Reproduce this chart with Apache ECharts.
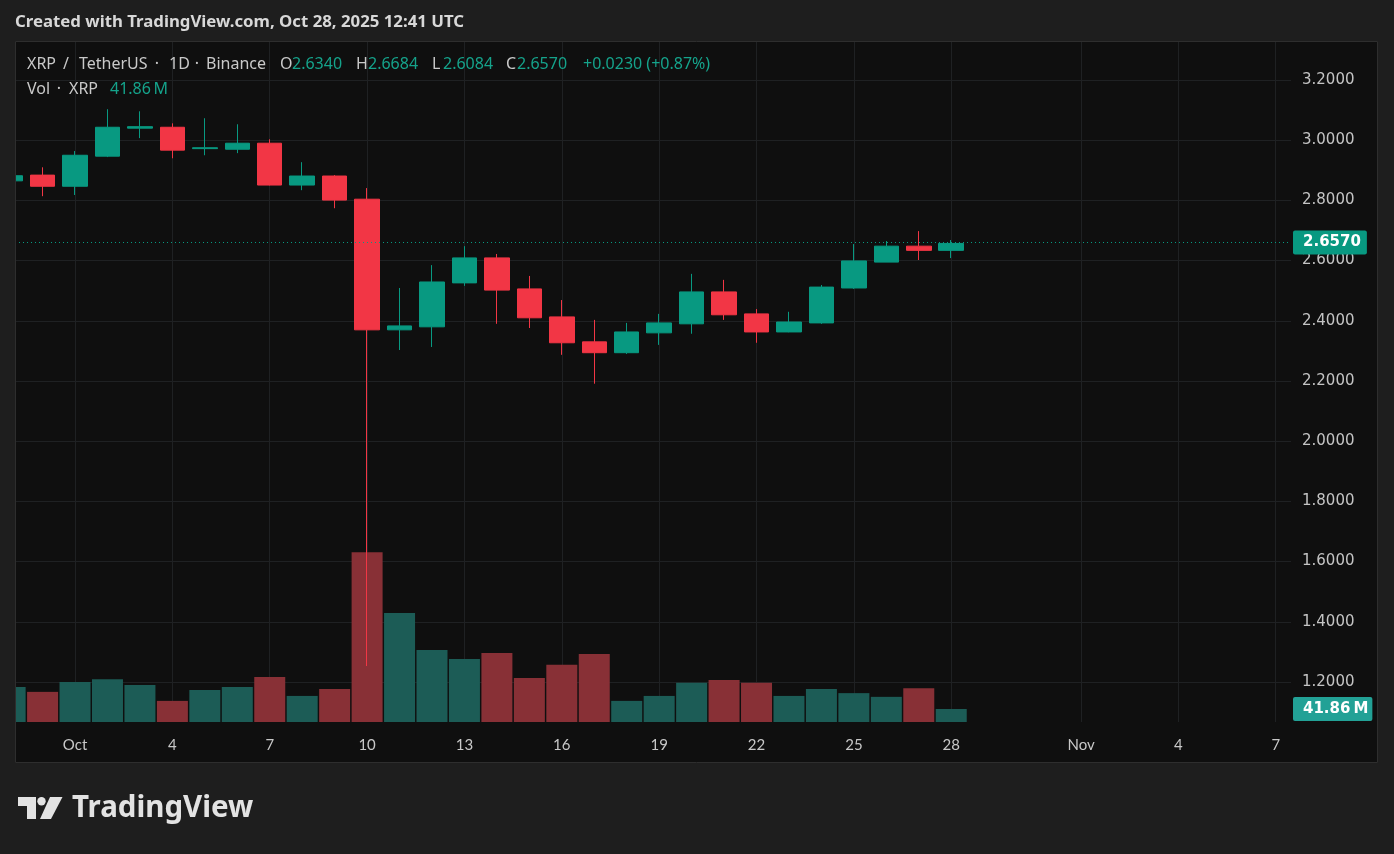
<!DOCTYPE html>
<html><head><meta charset="utf-8">
<script src="https://cdn.jsdelivr.net/npm/echarts@6/dist/echarts.min.js"></script>
<style>html,body{margin:0;padding:0;background:#1e1e1e;} #c{width:1394px;height:854px;}</style>
</head><body><div id="c"></div>
<script>
// ---- data ----
const dates = ['2025-09-29','2025-09-30','2025-10-01','2025-10-02','2025-10-03','2025-10-04','2025-10-05','2025-10-06','2025-10-07','2025-10-08','2025-10-09','2025-10-10','2025-10-11','2025-10-12','2025-10-13','2025-10-14','2025-10-15','2025-10-16','2025-10-17','2025-10-18','2025-10-19','2025-10-20','2025-10-21','2025-10-22','2025-10-23','2025-10-24','2025-10-25','2025-10-26','2025-10-27','2025-10-28'];
const opens  = [2.865,2.884,2.847,2.947,3.040,3.043,2.972,2.970,2.990,2.851,2.881,2.804,2.370,2.380,2.526,2.609,2.506,2.413,2.330,2.294,2.360,2.390,2.496,2.423,2.363,2.393,2.509,2.595,2.648,2.6340];
const closes = [2.882,2.847,2.950,3.043,3.045,2.967,2.975,2.990,2.851,2.881,2.801,2.370,2.383,2.529,2.609,2.502,2.410,2.327,2.294,2.363,2.393,2.496,2.420,2.363,2.396,2.512,2.599,2.648,2.634,2.6570];
const lows   = [2.855,2.814,2.818,2.944,3.007,2.940,2.950,2.957,2.850,2.834,2.774,1.253,2.303,2.313,2.516,2.390,2.376,2.287,2.191,2.290,2.320,2.357,2.403,2.327,2.362,2.390,2.506,2.595,2.602,2.6084];
const highs  = [2.890,2.910,2.964,3.103,3.096,3.056,3.073,3.053,3.003,2.927,2.884,2.841,2.509,2.585,2.648,2.622,2.549,2.469,2.403,2.393,2.423,2.556,2.536,2.439,2.430,2.519,2.655,2.665,2.698,2.6684];
const volumes = [113,97,129,138,119,68,103,113,145,84,106,547,351,232,203,222,142,184,219,68,84,126,135,126,84,106,93,81,109,41.86]; // millions
const xTickDates  = ['2025-10-01','2025-10-04','2025-10-07','2025-10-10','2025-10-13','2025-10-16','2025-10-19','2025-10-22','2025-10-25','2025-10-28','2025-11-01','2025-11-04','2025-11-07'];
const xTickLabels = ['Oct','4','7','10','13','16','19','22','25','28','Nov','4','7'];
const yTickValues = [1.2,1.4,1.6,1.8,2.0,2.2,2.4,2.6,2.8,3.0,3.2];

// ---- helpers ----
const UP = '#089981', DOWN = '#f23645';
const VOL_UP = '#1c5c56', VOL_DOWN = '#883036';
const t0 = Date.UTC(2025, 8, 29);
function dayIndex(s){ const p = s.split('-').map(Number); return (Date.UTC(p[0], p[1]-1, p[2]) - t0) / 86400000; }
const xs = dates.map(dayIndex);
const candleData = dates.map((d,i)=>[xs[i], opens[i], closes[i], lows[i], highs[i]]);
const volData = dates.map((d,i)=>({value:[xs[i], volumes[i]], itemStyle:{color: closes[i] >= opens[i] ? VOL_UP : VOL_DOWN}}));
const xTickIdx = xTickDates.map(dayIndex);
const XMIN = 0.15, XMAX = 39.47;
const n = dates.length - 1;
const lastO = opens[n], lastH = highs[n], lastL = lows[n], lastC = closes[n];
const chg = lastC - closes[n-1];
const chgPct = chg / closes[n-1] * 100;
const sign = v => (v >= 0 ? '+' : '');
const volLabel = volumes[n].toFixed(2) + '\u2009M';

const TXT = '#c9c9c9', TEAL = '#15a38b', BAND = '#1e1e1e';
const F = 'Noto Sans';

function txt(x, y, s, color, size, weight, fam, align){
  return {type:'text', x:x, y:y, silent:true, z:100,
    style:{text:s, fill:color, font:(weight||'normal')+' '+size+'px "'+(fam||F)+'"', textVerticalAlign:'middle', textAlign:align||'left'}};
}
function boxLabel(text, bg, padR){
  return {show:true, position:'end', distance:2, formatter:text, color:'#ffffff', opacity:1, fontFamily:'DejaVu Sans', fontWeight:'bold', fontSize:15,
    backgroundColor:bg, padding:[5,padR,4,10], borderRadius:2};
}

const chart = echarts.init(document.getElementById('c'), null, {renderer:'canvas'});
chart.setOption({
  backgroundColor:'#0f0f0f',
  animation:false,
  grid:{left:15, right:103, top:41, bottom:132, containLabel:false},
  xAxis:{type:'value', min:XMIN, max:XMAX,
    axisLine:{show:false}, axisTick:{show:false, customValues:xTickIdx},
    splitLine:{show:true, lineStyle:{color:'#1f2123', width:1}},
    axisLabel:{customValues:xTickIdx, color:'#c8c8c8', fontFamily:'Lato', fontSize:15, margin:16,
      formatter:function(v){ const k = xTickIdx.indexOf(Math.round(v)); return k >= 0 ? xTickLabels[k] : ''; }}
  },
  yAxis:[
    {type:'value', position:'right', min:1.0671, max:3.3296,
      axisLine:{show:false}, axisTick:{show:false, customValues:yTickValues},
      splitLine:{show:true, lineStyle:{color:'#1f2123', width:1}},
      axisLabel:{customValues:yTickValues, color:'#c4c4c4', fontFamily:'DejaVu Sans', fontSize:15, margin:11,
        formatter:function(v){ return v.toFixed(4); }}
    },
    {type:'value', min:0, max:2193, show:false, splitLine:{show:false}}
  ],
  series:[
    {type:'bar', xAxisIndex:0, yAxisIndex:1, data:volData, barWidth:31, z:2, silent:true,
      markLine:{symbol:'none', silent:true, animation:false,
        data:[{yAxis:volumes[n]}],
        lineStyle:{color:'rgba(0,0,0,0)', width:1, opacity:1},
        label:boxLabel(volLabel, '#22a196', 4)
      }
    },
    {type:'candlestick', xAxisIndex:0, yAxisIndex:0, data:candleData, z:3, silent:true,
      encode:{x:0, y:[1,2,3,4]}, barWidth:25,
      itemStyle:{color:UP, color0:DOWN, borderColor:UP, borderColor0:DOWN, borderWidth:1},
      markLine:{symbol:'none', silent:true, animation:false,
        data:[{yAxis:lastC}],
        lineStyle:{color:UP, type:[1,3], width:1},
        label:boxLabel(lastC.toFixed(4), UP, 6)
      }
    }
  ],
  graphic:[
    {type:'rect', silent:true, z:90, shape:{x:0,y:0,width:1394,height:41}, style:{fill:BAND}},
    {type:'rect', silent:true, z:90, shape:{x:0,y:763,width:1394,height:91}, style:{fill:BAND}},
    {type:'rect', silent:true, z:90, shape:{x:0,y:41,width:15,height:722}, style:{fill:BAND}},
    {type:'rect', silent:true, z:90, shape:{x:1378,y:41,width:16,height:722}, style:{fill:BAND}},
    {type:'rect', silent:true, z:91, shape:{x:15.5,y:41.5,width:1362,height:721}, style:{fill:null, stroke:'#2e2e2e', lineWidth:1}},
    txt(15, 22, 'Created with TradingView.com, Oct 28, 2025 12:41 UTC', '#d8d8d8', 16.8, 'bold'),
    txt(27, 64, 'XRP', TXT, 16), txt(66, 64, '/', TXT, 16, null, null, 'center'), txt(79, 64, 'TetherUS', TXT, 16),
    txt(157, 64, '·', TXT, 16, null, null, 'center'),
    txt(169, 64, '1D', TXT, 16), txt(197, 64, '·', TXT, 16, null, null, 'center'),
    txt(206, 64, 'Binance', TXT, 16),
    txt(280, 64, 'O', TXT, 16), txt(292, 64, lastO.toFixed(4), TEAL, 16),
    txt(356, 64, 'H', TXT, 16), txt(368, 64, lastH.toFixed(4), TEAL, 16),
    txt(432, 64, 'L', TXT, 16), txt(443, 64, lastL.toFixed(4), TEAL, 16),
    txt(506, 64, 'C', TXT, 16), txt(517, 64, lastC.toFixed(4), TEAL, 16),
    txt(583, 64, sign(chg) + chg.toFixed(4) + ' (' + sign(chgPct) + chgPct.toFixed(2) + '%)', TEAL, 16),
    txt(27, 89, 'Vol', TXT, 16), txt(59, 89, '·', TXT, 16, null, null, 'center'), txt(69, 89, 'XRP', TXT, 16),
    txt(110, 89, volLabel, TEAL, 16),
    {type:'polygon', silent:true, z:100, shape:{points:[[18,797],[36,797],[36,819],[27,819],[27,806],[18,806]]}, style:{fill:'#e3e3e3'}},
    {type:'circle', silent:true, z:100, shape:{cx:41.5, cy:801.2, r:4.2}, style:{fill:'#e3e3e3'}},
    {type:'polygon', silent:true, z:100, shape:{points:[[50,797],[62.5,797],[51,819],[40,819]]}, style:{fill:'#e3e3e3'}},
    txt(72, 809, 'TradingView', '#e3e3e3', 29.5, 'bold', 'Noto Sans')
  ]
});
</script></body></html>
